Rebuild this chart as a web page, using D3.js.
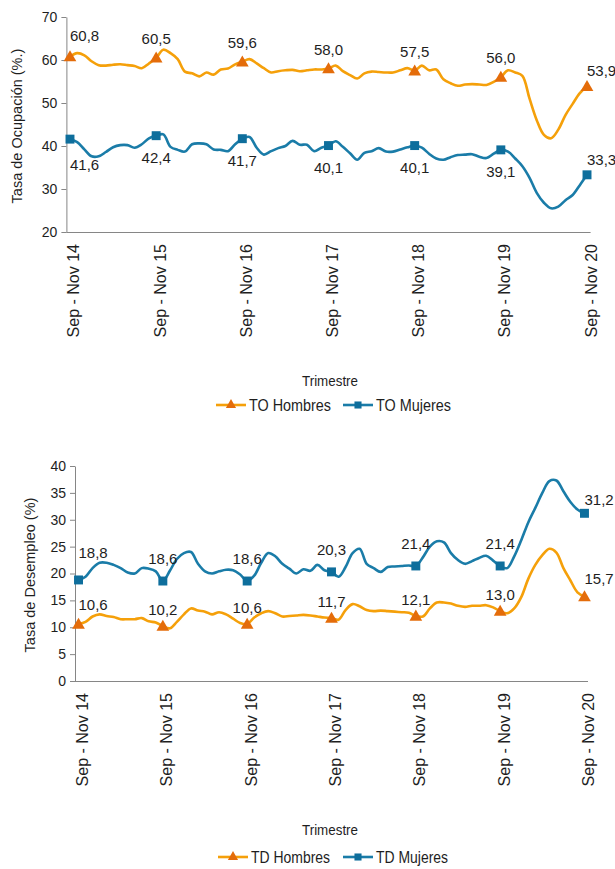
<!DOCTYPE html>
<html><head><meta charset="utf-8">
<script src="https://cdn.jsdelivr.net/npm/d3@7"></script>
<style>body{margin:0;background:#fff} svg{display:block}</style>
</head><body><svg id="c" width="615" height="869"></svg>
<script>
// ---------- DATA ----------
const monthNames = ["Ene","Feb","Mar","Abr","May","Jun","Jul","Ago","Sep","Oct","Nov","Dic"];
const categories = d3.range(73).map(i => {
  const s = (8 + i) % 12, e = (10 + i) % 12;
  const yy = 14 + Math.floor((10 + i) / 12);
  return monthNames[s] + " - " + monthNames[e] + " " + yy;
});
const tickLabels = ["Sep - Nov 14","Sep - Nov 15","Sep - Nov 16","Sep - Nov 17","Sep - Nov 18","Sep - Nov 19","Sep - Nov 20"];

const toHombres = [60.8,61.6,61.1,59.7,58.8,58.7,58.9,59.0,58.8,58.6,58.1,59.2,
  60.5,62.4,61.6,60.2,57.3,56.9,56.2,57.1,56.6,57.8,58.0,59.0,
  59.6,60.2,59.2,58.1,57.1,57.4,57.6,57.7,57.4,57.6,57.8,57.8,
  58.0,58.7,57.4,56.5,55.7,56.9,57.3,57.2,57.1,57.1,57.6,58.1,
  57.5,58.7,57.6,57.8,55.5,54.6,54.0,54.3,54.4,54.3,54.2,54.9,
  56.0,57.6,57.1,56.3,51.0,46.0,42.6,41.8,43.8,47.2,49.8,52.3,53.9];
const toMujeres = [41.6,40.9,39.2,37.6,37.6,38.6,39.7,40.2,40.2,39.6,40.4,41.8,
  42.4,42.7,39.8,39.1,38.7,40.4,40.6,40.4,39.2,39.1,38.8,40.4,
  41.7,42.1,39.6,38.0,38.8,39.5,40.0,41.2,40.3,40.3,38.8,39.6,
  40.1,41.1,39.8,38.3,36.8,38.4,38.8,39.5,38.7,38.7,39.2,39.7,
  40.1,39.6,38.2,37.1,36.8,37.4,37.9,38.0,38.1,37.5,37.2,38.2,
  39.1,38.7,37.1,35.3,32.6,29.1,26.8,25.5,25.9,27.4,28.6,30.9,33.3];
const tdHombres = [10.6,11.0,12.0,12.4,12.1,11.9,11.5,11.5,11.5,11.7,11.1,10.9,
  10.2,9.8,11.0,12.4,13.5,13.1,12.9,12.4,12.8,12.4,11.6,10.8,
  10.6,11.8,12.6,13.0,12.6,12.0,12.1,12.2,12.3,12.2,12.0,11.8,
  11.7,11.4,13.2,14.3,13.9,13.2,13.0,13.1,13.0,12.9,12.8,12.7,
  12.1,12.0,13.5,14.6,14.6,14.4,14.0,13.8,14.0,14.0,14.1,13.7,
  13.0,12.6,13.5,15.6,19.0,21.6,23.4,24.6,23.9,21.0,18.7,16.5,15.7];
const tdMujeres = [18.8,19.4,21.0,22.0,22.0,21.6,21.0,20.2,20.0,21.0,20.9,20.4,
  18.6,20.5,22.7,23.8,24.0,21.8,20.4,20.0,20.4,20.7,20.6,19.8,
  18.6,19.6,22.0,23.8,23.2,21.8,20.9,20.0,20.8,20.5,21.6,20.6,
  20.3,19.4,21.2,23.8,24.6,21.8,21.0,20.3,21.2,21.3,21.4,21.5,
  21.4,23.0,25.0,26.0,25.8,23.8,22.5,21.8,22.3,22.9,23.3,22.4,
  21.4,21.0,23.2,26.2,29.5,32.2,35.0,37.2,37.3,35.3,33.3,31.9,31.2];

const yTicksTO = [20,30,40,50,60,70];
const yTicksTD = [0,5,10,15,20,25,30,35,40];

// ---------- STYLE ----------
const ORANGE_LINE = "#F5A00A", ORANGE_MARK = "#E46C0A";
const BLUE_LINE = "#1A7CA8", BLUE_MARK = "#0E6E9C";
const AXIS = "#868686", TXT = "#1e1e1e";
const FONT = "'Liberation Sans', Arial, sans-serif";

const svg = d3.select("#c");

function panel(cfg) {
  const g = svg.append("g");
  const x = d3.scalePoint().domain(categories).range([cfg.left, cfg.right]).padding(0.5);
  const y = d3.scaleLinear().domain(cfg.domain).range([cfg.bottom, cfg.top]);

  // y axis
  const ya = g.append("g").attr("transform", `translate(${cfg.left},0)`)
    .call(d3.axisLeft(y).tickValues(cfg.yTicks).tickSize(5).tickSizeOuter(0).tickPadding(4));
  ya.select(".domain").attr("stroke", AXIS);
  ya.selectAll(".tick line").attr("stroke", AXIS);
  ya.selectAll(".tick text").attr("font-family", FONT).attr("font-size", 14).attr("fill", TXT);

  // x axis
  const tickCats = categories.filter(c => c.startsWith("Sep - Nov"));
  const xa = g.append("g").attr("transform", `translate(0,${cfg.bottom})`)
    .call(d3.axisBottom(x).tickValues(tickCats).tickSize(0).tickSizeOuter(0)
      .tickFormat((d, i) => tickLabels[i]));
  xa.select(".domain").attr("stroke", AXIS).attr("d", `M${cfg.left},0.5H${cfg.right}`);
  xa.selectAll(".tick text")
    .attr("font-family", FONT).attr("font-size", 16).attr("fill", TXT)
    .attr("transform", "rotate(-90)").attr("text-anchor", "end")
    .attr("x", -12).attr("y", 9).attr("dy", 0);

  // axis titles
  g.append("text").attr("transform", `translate(${cfg.titleX},${cfg.titleY}) rotate(-90)`)
    .attr("text-anchor", "middle").attr("font-family", FONT).attr("font-size", 14.5)
    .attr("fill", TXT).text(cfg.yTitle);
  g.append("text").attr("x", 330).attr("y", cfg.xTitleY).attr("text-anchor", "middle")
    .attr("font-family", FONT).attr("font-size", 15).attr("fill", TXT)
    .attr("textLength", 56).attr("lengthAdjust", "spacingAndGlyphs").text("Trimestre");

  const line = d3.line().x((d, i) => x(categories[i])).y(d => y(d)).curve(d3.curveCatmullRom.alpha(0.5));
  const markIdx = d3.range(0, 73, 12);

  cfg.series.forEach(s => {
    g.append("path").datum(s.values).attr("d", line).attr("fill", "none")
      .attr("stroke", s.line).attr("stroke-width", 2.6).attr("stroke-linejoin", "round");
  });
  cfg.series.forEach(s => {
    const sym = d3.symbol().type(s.shape === "tri" ? d3.symbolTriangle : d3.symbolSquare)
      .size(s.shape === "tri" ? 70 : 80);
    g.selectAll(null).data(markIdx).enter().append("path")
      .attr("d", sym)
      .attr("transform", i => `translate(${x(categories[i])},${y(s.values[i]) + (s.shape === "tri" ? 1 : 0)})`)
      .attr("fill", s.mark);
    g.selectAll(null).data(markIdx).enter().append("text")
      .attr("x", i => x(categories[i]))
      .attr("y", (i, k) => y(s.values[i]) + (k === 0 ? s.dyFirst : (i === 72 ? s.dyLast : s.dy)))
      .attr("text-anchor", (i, k) => (k === 0 || i === 72) ? "start" : "middle")
      .attr("font-family", FONT).attr("font-size", 15).attr("fill", TXT)
      .text(i => s.values[i].toFixed(1).replace(".", ","));
  });

  // legend
  const lg = g.append("g").attr("transform", `translate(0,${cfg.legendY})`);
  cfg.series.forEach(s => {
    lg.append("line").attr("x1", s.legendX).attr("x2", s.legendX + 30).attr("y1", 0).attr("y2", 0)
      .attr("stroke", s.line).attr("stroke-width", 2.6);
    const sym = d3.symbol().type(s.shape === "tri" ? d3.symbolTriangle : d3.symbolSquare).size(s.shape === "tri" ? 45 : 50);
    lg.append("path").attr("d", sym).attr("transform", `translate(${s.legendX + 15},0)`).attr("fill", s.mark);
    lg.append("text").attr("x", s.legendX + 33).attr("y", 5.5).attr("font-family", FONT)
      .attr("font-size", 16).attr("fill", TXT)
      .attr("textLength", s.legendW).attr("lengthAdjust", "spacingAndGlyphs").text(s.name);
  });
}

panel({
  left: 66.4, right: 590.6, top: 17, bottom: 232, domain: [20, 70], yTicks: yTicksTO,
  yTitle: "Tasa de Ocupación (%.)", titleX: 22, titleY: 126, xTitleY: 386, legendY: 405,
  series: [
    {name: "TO Hombres", values: toHombres, line: ORANGE_LINE, mark: ORANGE_MARK, shape: "tri",
     dy: -14, dyFirst: -16, dyLast: -10, legendX: 216, legendW: 82},
    {name: "TO Mujeres", values: toMujeres, line: BLUE_LINE, mark: BLUE_MARK, shape: "sq",
     dy: 27, dyFirst: 31, dyLast: -10, legendX: 343, legendW: 75}
  ]
});

panel({
  left: 75, right: 588, top: 466, bottom: 681, domain: [0, 40], yTicks: yTicksTD,
  yTitle: "Tasa de Desempleo (%)", titleX: 35, titleY: 575, xTitleY: 835, legendY: 857,
  series: [
    {name: "TD Hombres", values: tdHombres, line: ORANGE_LINE, mark: ORANGE_MARK, shape: "tri",
     dy: -11, dyFirst: -14, dyLast: -13, legendX: 218, legendW: 79},
    {name: "TD Mujeres", values: tdMujeres, line: BLUE_LINE, mark: BLUE_MARK, shape: "sq",
     dy: -17, dyFirst: -22, dyLast: -8, legendX: 343, legendW: 72}
  ]
});
</script>
</body></html>
